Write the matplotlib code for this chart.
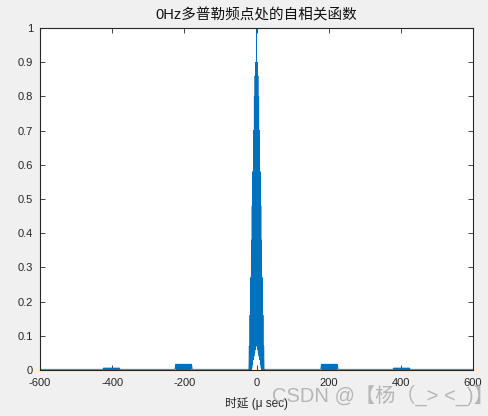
import numpy as np
import matplotlib
matplotlib.use('Agg')
import matplotlib.pyplot as plt

plt.rcParams['font.family'] = ['Liberation Sans', 'Noto Sans CJK SC', 'DejaVu Sans']
plt.rcParams['axes.unicode_minus'] = False

# zero-Doppler cut (delay in microseconds)
central_delay = list(range(-22, 23))
central_acf = [0.0, 0.0, 0.07, 0.0, 0.16, 0.0, 0.27, 0.0, 0.38, 0.005, 0.48, 0.015,
               0.58, 0.03, 0.7, 0.04, 0.8, 0.05, 0.86, 0.06, 0.9, 0.07, 1.0,
               0.07, 0.9, 0.06, 0.86, 0.05, 0.8, 0.04, 0.7, 0.03, 0.58, 0.015,
               0.48, 0.005, 0.38, 0.0, 0.27, 0.0, 0.16, 0.0, 0.07, 0.0, 0.0]

lobe200_delay = list(range(-224, -179))
lobe200_acf = [0.017, 0.002, 0.017, 0.002, 0.017, 0.002, 0.017, 0.002, 0.017, 0.002,
               0.017, 0.002, 0.017, 0.002, 0.017, 0.002, 0.017, 0.002, 0.017, 0.002,
               0.017, 0.002, 0.017, 0.002, 0.017, 0.002, 0.017, 0.002, 0.017, 0.002,
               0.017, 0.002, 0.017, 0.002, 0.017, 0.002, 0.017, 0.002, 0.017, 0.002,
               0.017, 0.002, 0.017, 0.002, 0.017]

lobe400_delay = list(range(-424, -379))
lobe400_acf = [0.006, 0.001, 0.006, 0.001, 0.006, 0.001, 0.006, 0.001, 0.006, 0.001,
               0.006, 0.001, 0.006, 0.001, 0.006, 0.001, 0.006, 0.001, 0.006, 0.001,
               0.006, 0.001, 0.006, 0.001, 0.006, 0.001, 0.006, 0.001, 0.006, 0.001,
               0.006, 0.001, 0.006, 0.001, 0.006, 0.001, 0.006, 0.001, 0.006, 0.001,
               0.006, 0.001, 0.006, 0.001, 0.006]

floor_acf = 0.002

xticks = [-600, -400, -200, 0, 200, 400, 600]
yticks = [0, 0.1, 0.2, 0.3, 0.4, 0.5, 0.6, 0.7, 0.8, 0.9, 1]
ytick_labels = ['0', '0.1', '0.2', '0.3', '0.4', '0.5', '0.6', '0.7', '0.8', '0.9', '1']

# stitch the trace: left side lobes, main lobe, mirrored right side lobes
delay = ([-600, -426] + lobe400_delay + [-378, -226] + lobe200_delay + [-178, -23]
         + central_delay
         + [23, 178] + [-d for d in lobe200_delay[::-1]] + [226, 378]
         + [-d for d in lobe400_delay[::-1]] + [426, 600])
acf = ([floor_acf, floor_acf] + lobe400_acf + [floor_acf, floor_acf] + lobe200_acf
       + [floor_acf, floor_acf]
       + central_acf
       + [floor_acf, floor_acf] + lobe200_acf[::-1] + [floor_acf, floor_acf]
       + lobe400_acf[::-1] + [floor_acf, floor_acf])

fig = plt.figure(figsize=(4.88, 4.16), dpi=100, facecolor='#f0f0f0')
ax = fig.add_axes([40 / 488, 46 / 416, 433 / 488, 342 / 416])
ax.plot(delay, acf, color='#0072BD', linewidth=0.6)

ax.set_xlim(-600, 600)
ax.set_ylim(0, 1)
ax.set_xticks(xticks)
ax.set_xticklabels([str(t) for t in xticks])
ax.set_yticks(yticks)
ax.set_yticklabels(ytick_labels)

dark = '#262626'
for s in ax.spines.values():
    s.set_color(dark)
    s.set_linewidth(0.8)
ax.tick_params(direction='in', length=3.5, width=0.6, colors=dark, labelsize=8,
               top=True, right=True)
ax.tick_params(axis='x', pad=6)
ax.tick_params(axis='y', pad=5)

ax.set_title('0Hz多普勒频点处的自相关函数', fontsize=10.5, color='#111111', pad=6)
ax.set_xlabel('时延 (μ sec)', fontsize=8.5, color=dark, labelpad=6)

fig.text(272 / 488, 21 / 416, 'CSDN @【杨（_> <_)】', fontsize=14.5, color='#a8a8a8',
         alpha=0.8, ha='left', va='center')

fig.savefig('out.png', dpi=100, facecolor=fig.get_facecolor())
